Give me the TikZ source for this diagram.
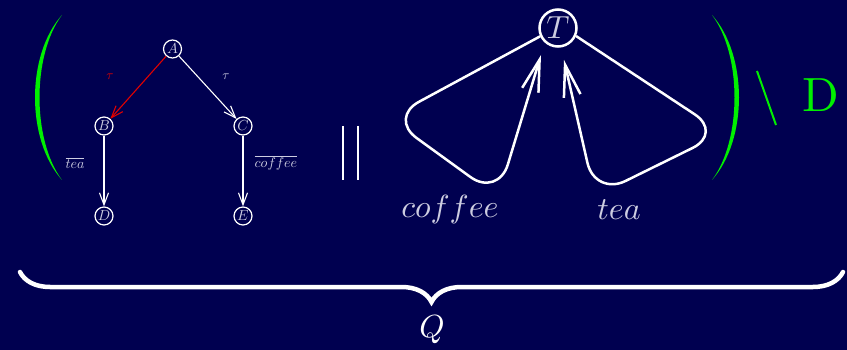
\documentclass[tikz,border=0pt]{standalone}
\usepackage{graphicx}
\usetikzlibrary{arrows.meta,decorations.pathreplacing}
\definecolor{bg}{RGB}{0,0,80}
\definecolor{lbl}{RGB}{205,205,225}
\definecolor{grn}{RGB}{0,240,0}
\definecolor{redc}{RGB}{225,0,0}
\newcommand{\sctxt}[2]{\scalebox{#1}{#2}}
\begin{document}
\begin{tikzpicture}[x=1pt,y=-1pt,
  smallnode/.style={circle,draw=white,line width=1.2pt,minimum size=18pt,inner sep=0pt,text=lbl},
  bignode/.style={circle,draw=white,line width=2.5pt,minimum size=37pt,inner sep=0pt,text=lbl},
  tarrow/.style={draw=white,line width=1.1pt,-{Straight Barb[length=12pt,width=9pt]}},
  bigarrow/.style={draw=white,line width=2.5pt,rounded corners=34pt,-{Straight Barb[length=32pt,width=17pt]}},
  smalllbl/.style={text=lbl},
  biglbl/.style={text=lbl},
  greenline/.style={draw=grn,line width=2pt}
]
\useasboundingbox[fill=bg] (0,0) rectangle (847,350);
% left tree
\node[smallnode] (A) at (172.5,49) {\sctxt{1.45}{$A$}};
\node[smallnode] (B) at (104,126) {\sctxt{1.45}{$B$}};
\node[smallnode] (C) at (243,126) {\sctxt{1.45}{$C$}};
\node[smallnode] (D) at (104,216) {\sctxt{1.45}{$D$}};
\node[smallnode] (E) at (243,216) {\sctxt{1.45}{$E$}};
\draw[tarrow,draw=redc] (A) -- (B);
\draw[tarrow] (A) -- (C);
\draw[tarrow] (B) -- (D);
\draw[tarrow] (C) -- (E);
\node[text=redc] (t1) at (110,77) {\sctxt{1.3}{$\tau$}};
\node[smalllbl] (t2) at (226,77) {\sctxt{1.3}{$\tau$}};
\node[smalllbl] (ltea) at (75,163) {\sctxt{1.4}{$\overline{tea}$}};
\node[smalllbl] (lcof) at (276,163) {\sctxt{1.4}{$\overline{coffee}$}};
% parentheses
\fill[grn] (62,15) .. controls (26,55) and (26,140) .. (62,180)
   .. controls (32,140) and (32,55) .. cycle;
\fill[grn] (712,15) .. controls (748,55) and (748,140) .. (712,180)
   .. controls (742,140) and (742,55) .. cycle;
% parallel bars
\draw[white,line width=2.5pt] (343,126) -- (343,180);
\draw[white,line width=2.5pt] (358,126) -- (358,180);
% right process
\node[bignode] (T) at (558,28) {\sctxt{3.2}{$T$}};
\coordinate (tl) at (541,55);
\coordinate (tr) at (564,60);
\draw[bigarrow] (T.205) -- (389,118) -- (498,197) -- (tl);
\draw[bigarrow] (T.336) -- (723,133) -- (595,196) -- (tr);
\node[biglbl] (lc) at (450,210) {\sctxt{3.2}{$coffee$}};
\node[biglbl] (lt) at (619,210) {\sctxt{3.2}{$tea$}};
% restriction
\draw[greenline] (757,71) -- (776,125);
\node[text=grn] (DD) at (821,95) {\sctxt{4.8}{D}};
% brace
\draw[white,line width=4.5pt,line cap=round,decorate,decoration={brace,mirror,amplitude=30pt}] (20,272) -- (843,272);
\node[text=white] (Q) at (432,330) {\sctxt{3.2}{$Q$}};
\end{tikzpicture}
\end{document}
